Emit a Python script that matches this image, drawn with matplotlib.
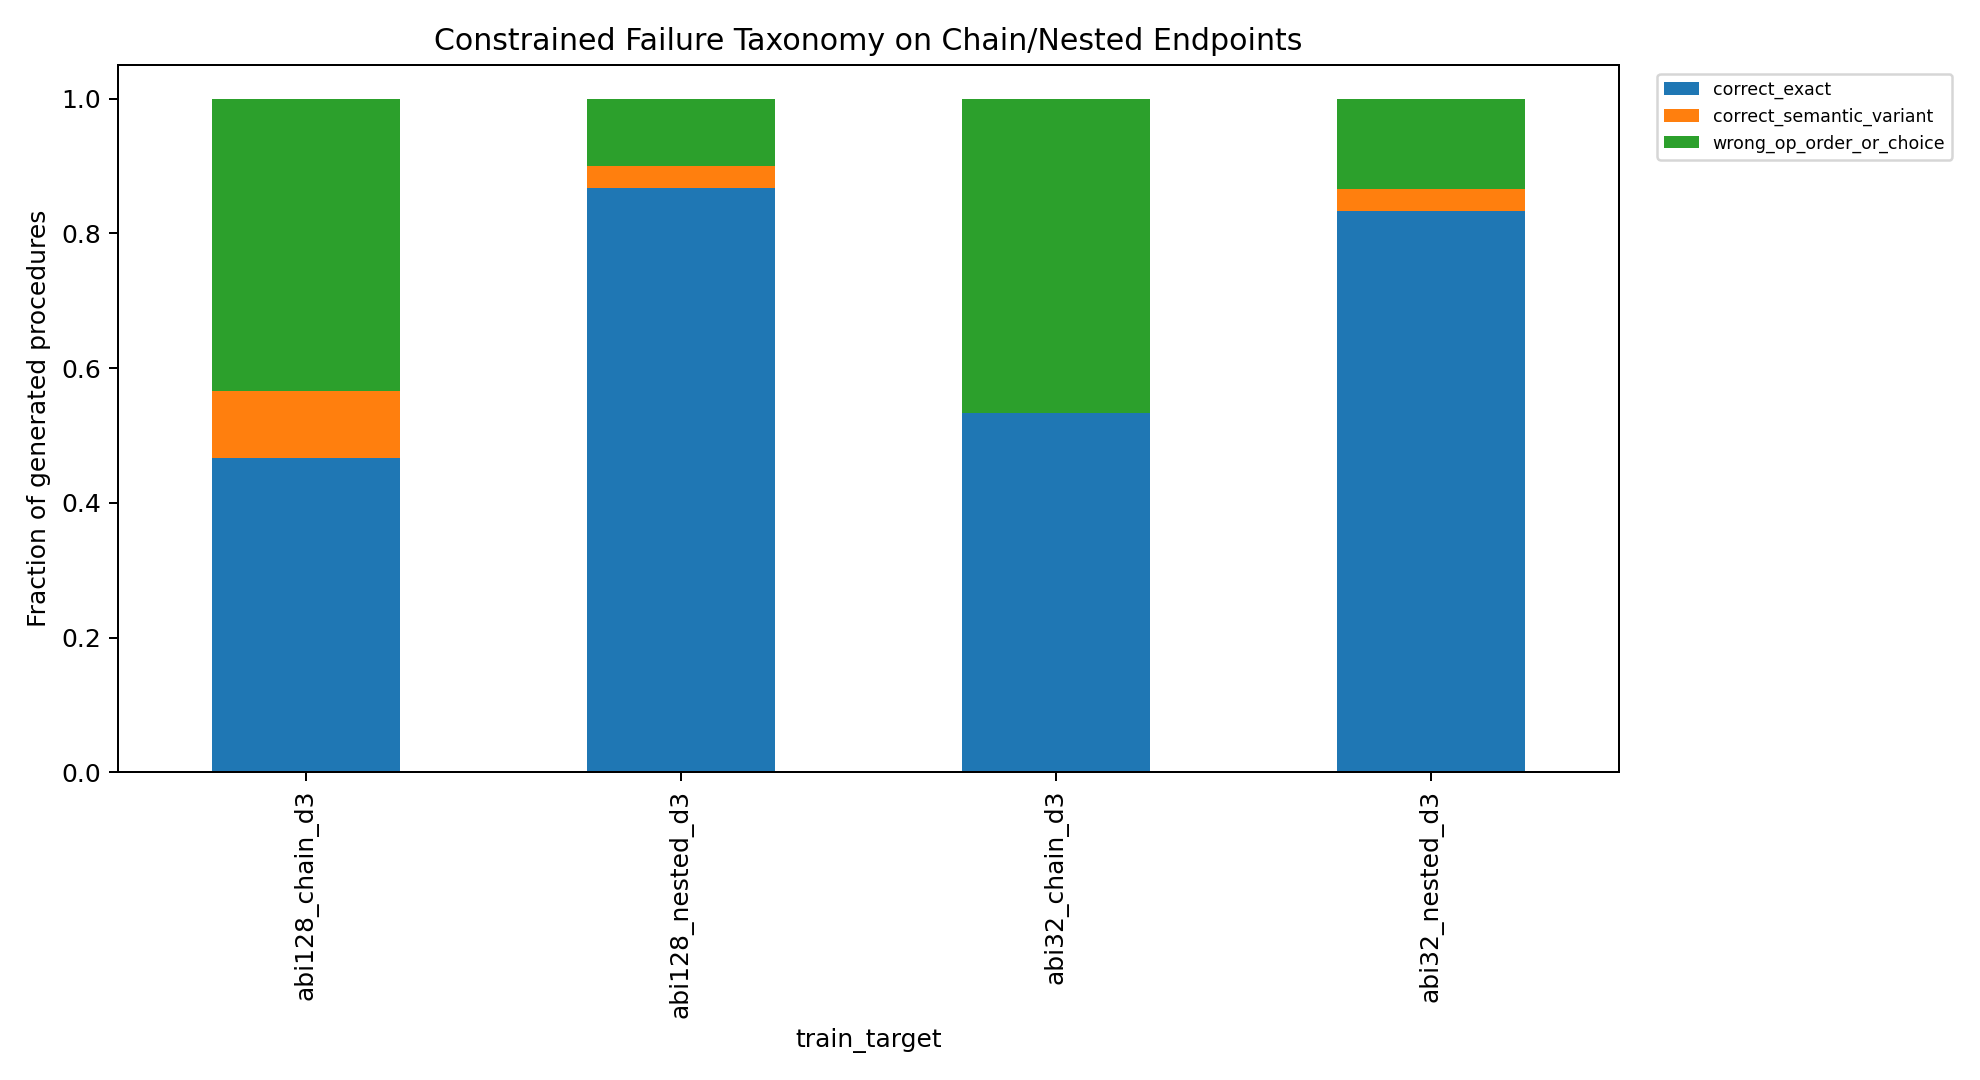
#! /usr/bin/env python
"""Stacked bar chart of constrained failure taxonomy."""

import matplotlib
matplotlib.use('Agg')
import matplotlib.pyplot as plt
import pandas as pd

# Data
train_targets = ['abi128_chain_d3', 'abi128_nested_d3',
                 'abi32_chain_d3', 'abi32_nested_d3']
correct_exact = [0.4667, 0.8667, 0.5333, 0.8333]
correct_semantic_variant = [0.1000, 0.0333, 0.0000, 0.0333]
wrong_op_order_or_choice = [0.4333, 0.1000, 0.4667, 0.1333]


def create_taxonomy_plot():
    """Create the stacked bar plot."""
    df = pd.DataFrame({
        'correct_exact': correct_exact,
        'correct_semantic_variant': correct_semantic_variant,
        'wrong_op_order_or_choice': wrong_op_order_or_choice,
    }, index=pd.Index(train_targets, name='train_target'))

    fig, ax = plt.subplots(figsize=(11, 6), dpi=180)
    df.plot(kind='bar', stacked=True, ax=ax,
            color=['#1f77b4', '#ff7f0e', '#2ca02c'])
    ax.set_title('Constrained Failure Taxonomy on Chain/Nested Endpoints')
    ax.set_ylabel('Fraction of generated procedures')
    ax.set_xlabel('train_target')
    ax.legend(bbox_to_anchor=(1.02, 1), loc='upper left', fontsize='x-small')

    fig.tight_layout()
    fig.savefig('out.png', dpi=180)


if __name__ == '__main__':
    create_taxonomy_plot()
